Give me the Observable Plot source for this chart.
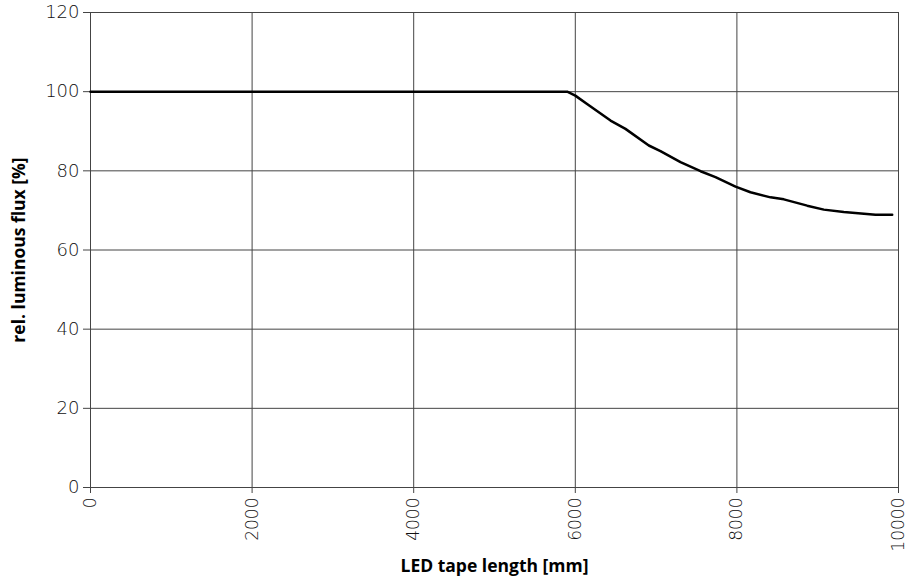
<!DOCTYPE html>
<html><head><meta charset="utf-8">
<script src="https://cdn.jsdelivr.net/npm/d3@7"></script>
<script src="https://cdn.jsdelivr.net/npm/@observablehq/plot@0.6"></script>
<style>body{margin:0;background:#fff}</style>
</head><body><div id="chart"></div>
<script>
const lengthMm = [0, 5900, 6000, 6150, 6436, 6621, 6910, 7054, 7302, 7550, 7735, 7983, 8168, 8416, 8581, 8870, 9076, 9323, 9715, 9922];
const fluxPct  = [100, 100, 99.0, 96.8, 92.7, 90.6, 86.4, 85.0, 82.2, 79.9, 78.4, 76.0, 74.6, 73.3, 72.8, 71.2, 70.2, 69.6, 68.9, 68.9];
const xTicks = [0, 2000, 4000, 6000, 8000, 10000];
const yTicks = [0, 20, 40, 60, 80, 100, 120];
const data = lengthMm.map((x, i) => ({x, y: fluxPct[i]}));

const chart = Plot.plot({
  width: 907, height: 579,
  marginLeft: 90, marginRight: 9, marginTop: 12, marginBottom: 92,
  style: {fontFamily: "'DejaVu Sans', sans-serif", background: "#fff"},
  x: {domain: [0, 10000]},
  y: {domain: [0, 120]},
  marks: [
    Plot.gridX(xTicks, {stroke: "#444", strokeOpacity: 1, strokeWidth: 1}),
    Plot.gridY(yTicks, {stroke: "#444", strokeOpacity: 1, strokeWidth: 1}),
    Plot.axisX(xTicks, {tickSize: 6, tickRotate: -90, tickPadding: 4, fontSize: 17, fontWeight: 200, fill: "#111", stroke: "#444", tickFormat: d => String(d),
      label: "LED tape length [mm]", labelAnchor: "center", labelOffset: 84, labelArrow: "none"}),
    Plot.axisY(yTicks, {tickSize: 7, tickPadding: 4, fontSize: 18, fontWeight: 200, fill: "#111", stroke: "#444", tickFormat: d => String(d),
      label: "rel. luminous flux [%]", labelAnchor: "center", labelOffset: 78, labelArrow: "none"}),
    Plot.ruleX([0], {stroke: "#444"}),
    Plot.ruleY([0], {stroke: "#444"}),
    Plot.line(data, {x: "x", y: "y", stroke: "#000", strokeWidth: 2.5, curve: "linear"})
  ]
});
document.getElementById("chart").append(chart);
chart.querySelectorAll("g[aria-label='x-axis label'] text, g[aria-label='y-axis label'] text").forEach(t => {
  t.setAttribute("font-weight", "bold"); t.setAttribute("font-size", "17.5"); t.setAttribute("fill", "#000");
  t.setAttribute("font-family", "'Open Sans', sans-serif");
});
</script>
</body></html>
